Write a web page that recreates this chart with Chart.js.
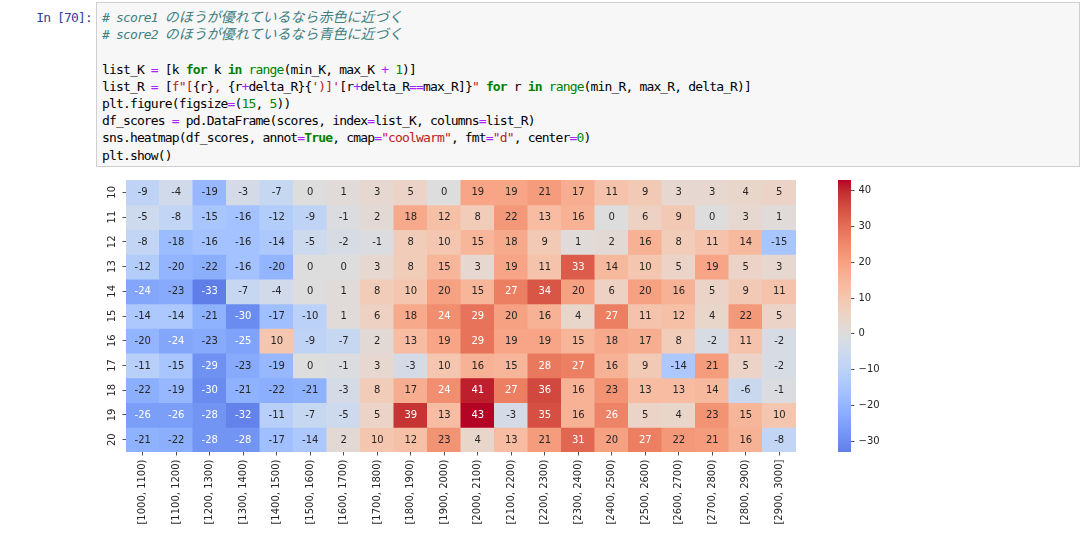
<!DOCTYPE html>
<html>
<head>
<meta charset="utf-8">
<script src="https://cdn.jsdelivr.net/npm/chart.js@4"></script>
<style>
body { margin: 0; background: #fff; width: 1082px; height: 538px; overflow: hidden; position: relative; }
.prompt { position: absolute; left: 0; top: 9px; width: 92px; text-align: right; color: #303F9F;
  font-family: "DejaVu Sans Mono", monospace; font-size: 13px; letter-spacing: -0.85px; line-height: 17px; }
.cell { position: absolute; left: 96px; top: 2px; width: 984px; height: 165px; background: #f7f7f7;
  border: 1px solid #cfcfcf; box-sizing: border-box; }
pre { margin: 0; position: absolute; left: 5px; top: 6px; color: #000;
  font-family: "DejaVu Sans Mono", "Noto Sans CJK JP", monospace; font-size: 13px; letter-spacing: -0.85px; line-height: 17.2px; }
.c { color: #408080; font-style: italic; }
.jp { font-size: 14px; letter-spacing: 0; }
.k { color: #008000; font-weight: bold; }
.b { color: #008000; }
.o { color: #AA22FF; }
.n { color: #008800; }
.s { color: #BA2121; }
#heat { position: absolute; left: 0; top: 170px; }
#cbar { position: absolute; left: 800px; top: 170px; }
</style>
</head>
<body>
<div class="prompt">In [70]:</div>
<div class="cell"><pre><span class="c"># score1 <span class="jp">のほうが優れているなら赤色に近づく</span></span>
<span class="c"># score2 <span class="jp">のほうが優れているなら青色に近づく</span></span>

list_K <span class="o">=</span> [k <span class="k">for</span> k <span class="k">in</span> <span class="b">range</span>(min_K, max_K <span class="o">+</span> <span class="n">1</span>)]
list_R <span class="o">=</span> [<span class="s">f"[</span>{r}<span class="s">, </span>{r<span class="o">+</span>delta_R}{<span class="s">')]'</span>[r<span class="o">+</span>delta_R<span class="o">==</span>max_R]}<span class="s">"</span> <span class="k">for</span> r <span class="k">in</span> <span class="b">range</span>(min_R, max_R, delta_R)]
plt.figure(figsize<span class="o">=</span>(<span class="n">15</span>, <span class="n">5</span>))
df_scores <span class="o">=</span> pd.DataFrame(scores, index<span class="o">=</span>list_K, columns<span class="o">=</span>list_R)
sns.heatmap(df_scores, annot<span class="o">=</span><span class="k">True</span>, cmap<span class="o">=</span><span class="s">"coolwarm"</span>, fmt<span class="o">=</span><span class="s">"d"</span>, center<span class="o">=</span><span class="n">0</span>)
plt.show()</pre></div>
<canvas id="heat" width="820" height="368"></canvas>
<canvas id="cbar" width="100" height="300"></canvas>
<script>
// rows (index) and columns of the score table
var list_K = [10, 11, 12, 13, 14, 15, 16, 17, 18, 19, 20];
var list_R = ['[1000, 1100)', '[1100, 1200)', '[1200, 1300)', '[1300, 1400)', '[1400, 1500)',
  '[1500, 1600)', '[1600, 1700)', '[1700, 1800)', '[1800, 1900)', '[1900, 2000)',
  '[2000, 2100)', '[2100, 2200)', '[2200, 2300)', '[2300, 2400)', '[2400, 2500)',
  '[2500, 2600)', '[2600, 2700)', '[2700, 2800)', '[2800, 2900)', '[2900, 3000]'];
var scores = [
  [-9, -4, -19, -3, -7, 0, 1, 3, 5, 0, 19, 19, 21, 17, 11, 9, 3, 3, 4, 5],
  [-5, -8, -15, -16, -12, -9, -1, 2, 18, 12, 8, 22, 13, 16, 0, 6, 9, 0, 3, 1],
  [-8, -18, -16, -16, -14, -5, -2, -1, 8, 10, 15, 18, 9, 1, 2, 16, 8, 11, 14, -15],
  [-12, -20, -22, -16, -20, 0, 0, 3, 8, 15, 3, 19, 11, 33, 14, 10, 5, 19, 5, 3],
  [-24, -23, -33, -7, -4, 0, 1, 8, 10, 20, 15, 27, 34, 20, 6, 20, 16, 5, 9, 11],
  [-14, -14, -21, -30, -17, -10, 1, 6, 18, 24, 29, 20, 16, 4, 27, 11, 12, 4, 22, 5],
  [-20, -24, -23, -25, 10, -9, -7, 2, 13, 19, 29, 19, 19, 15, 18, 17, 8, -2, 11, -2],
  [-11, -15, -29, -23, -19, 0, -1, 3, -3, 10, 16, 15, 28, 27, 16, 9, -14, 21, 5, -2],
  [-22, -19, -30, -21, -22, -21, -3, 8, 17, 24, 41, 27, 36, 16, 23, 13, 13, 14, -6, -1],
  [-26, -26, -28, -32, -11, -7, -5, 5, 39, 13, 43, -3, 35, 16, 26, 5, 4, 23, 15, 10],
  [-21, -22, -28, -28, -17, -14, 2, 10, 12, 23, 4, 13, 21, 31, 20, 27, 22, 21, 16, -8]
];
var cbarTicks = [-30, -20, -10, 0, 10, 20, 30, 40];

var center = 0;
var vmin = Math.min.apply(null, scores.flat());
var vmax = Math.max.apply(null, scores.flat());

// coolwarm colormap, 33 samples
var coolwarm = [
  [59,76,192],[68,90,204],[77,104,215],[87,117,225],[98,130,234],[108,142,241],[119,154,247],
  [130,165,251],[141,176,254],[152,185,255],[163,194,255],[174,201,253],[184,208,249],[194,213,244],
  [204,217,238],[213,219,230],[221,221,221],[229,216,209],[236,211,197],[241,204,184],[245,196,172],
  [247,187,160],[247,177,148],[247,166,135],[244,154,123],[241,141,111],[236,127,99],[229,112,88],
  [222,96,77],[213,80,66],[203,62,56],[192,40,47],[180,4,38]
];

function cmapRGB(v) {
  var vrange = Math.max(vmax - center, center - vmin);
  var t = (v - (center - vrange)) / (2 * vrange);
  t = Math.max(0, Math.min(1, t)) * (coolwarm.length - 1);
  var i = Math.min(Math.floor(t), coolwarm.length - 2);
  var f = t - i;
  var a = coolwarm[i], b = coolwarm[i + 1];
  return [0, 1, 2].map(function (c) { return Math.round(a[c] + (b[c] - a[c]) * f); });
}
function cmap(v) {
  var c = cmapRGB(v);
  return 'rgb(' + c[0] + ',' + c[1] + ',' + c[2] + ')';
}
function textColor(v) {
  var lin = cmapRGB(v).map(function (x) {
    x = x / 255;
    return x <= 0.03928 ? x / 12.92 : Math.pow((x + 0.055) / 1.055, 2.4);
  });
  var lum = 0.2126 * lin[0] + 0.7152 * lin[1] + 0.0722 * lin[2];
  return lum > 0.408 ? '#262626' : '#ffffff';
}

var tickFont = { family: 'DejaVu Sans', size: 10 };
var ink = '#262626';

var annotate = {
  id: 'annotate',
  afterDatasetsDraw: function (chart) {
    var ctx = chart.ctx;
    ctx.save();
    ctx.font = '10px "DejaVu Sans"';
    ctx.textAlign = 'center';
    ctx.textBaseline = 'middle';
    chart.data.datasets.forEach(function (ds, i) {
      chart.getDatasetMeta(i).data.forEach(function (bar, j) {
        var v = scores[i][j];
        ctx.fillStyle = textColor(v);
        ctx.fillText(String(v), bar.x, (bar.y + bar.base) / 2 + 0.5);
      });
    });
    ctx.restore();
  }
};

// one stacked dataset per row, each cell one unit high
var datasets = list_K.map(function (k, i) {
  return {
    label: String(k),
    data: scores[i].map(function () { return 1; }),
    backgroundColor: scores[i].map(cmap)
  };
});

new Chart('heat', {
  type: 'bar',
  data: { labels: list_R, datasets: datasets },
  options: {
    responsive: false,
    animation: false,
    events: [],
    layout: { padding: { top: 10, right: 24, left: 0, bottom: 0 } },
    plugins: { legend: { display: false }, tooltip: { enabled: false } },
    datasets: { bar: { barPercentage: 1, categoryPercentage: 1, borderWidth: 0, inflateAmount: 0.5 } },
    scales: {
      x: {
        stacked: true,
        border: { display: false },
        grid: { offset: false, drawOnChartArea: false, tickLength: 3.5, tickColor: ink, tickWidth: 0.8 },
        ticks: { autoSkip: false, minRotation: 90, maxRotation: 90, padding: 4, color: ink, font: tickFont },
        afterFit: function (s) { s.height = 86; }
      },
      y: {
        stacked: true,
        reverse: true,
        min: 0,
        max: list_K.length,
        border: { display: false },
        grid: { drawOnChartArea: false, tickLength: 3.5, tickColor: ink, tickWidth: 0.8 },
        afterBuildTicks: function (s) {
          s.ticks = list_K.map(function (k, i) { return { value: i + 0.5 }; });
        },
        ticks: {
          callback: function (v) { return String(list_K[Math.floor(v)]); },
          minRotation: 90, maxRotation: 90, crossAlign: 'center', padding: 4,
          color: ink, font: tickFont
        },
        afterFit: function (s) { s.width = 126; }
      }
    }
  },
  plugins: [annotate]
});

function cbarFill(c) {
  var a = c.chart.chartArea;
  if (!a) return null;
  var g = c.chart.ctx.createLinearGradient(0, a.bottom, 0, a.top);
  for (var k = 0; k <= 64; k++) {
    g.addColorStop(k / 64, cmap(vmin + (vmax - vmin) * k / 64));
  }
  return g;
}

new Chart('cbar', {
  type: 'bar',
  data: {
    labels: [''],
    datasets: [{ data: [[vmin, vmax]], backgroundColor: cbarFill, borderWidth: 0,
      barPercentage: 1, categoryPercentage: 1, borderSkipped: false }]
  },
  options: {
    responsive: false,
    animation: false,
    events: [],
    layout: { padding: { top: 10, bottom: 18, left: 38, right: 0 } },
    plugins: { legend: { display: false }, tooltip: { enabled: false } },
    scales: {
      x: { display: false },
      y: {
        position: 'right',
        min: vmin,
        max: vmax,
        border: { display: false },
        grid: { drawOnChartArea: false, tickLength: 3.5, tickColor: ink, tickWidth: 0.8 },
        afterBuildTicks: function (s) {
          s.ticks = cbarTicks.map(function (v) { return { value: v }; });
        },
        ticks: {
          callback: function (v) { return String(v).replace('-', '\u2212'); },
          padding: 4, color: ink, font: tickFont
        },
        afterFit: function (s) { s.width = 49; }
      }
    }
  }
});
</script>
</body>
</html>
